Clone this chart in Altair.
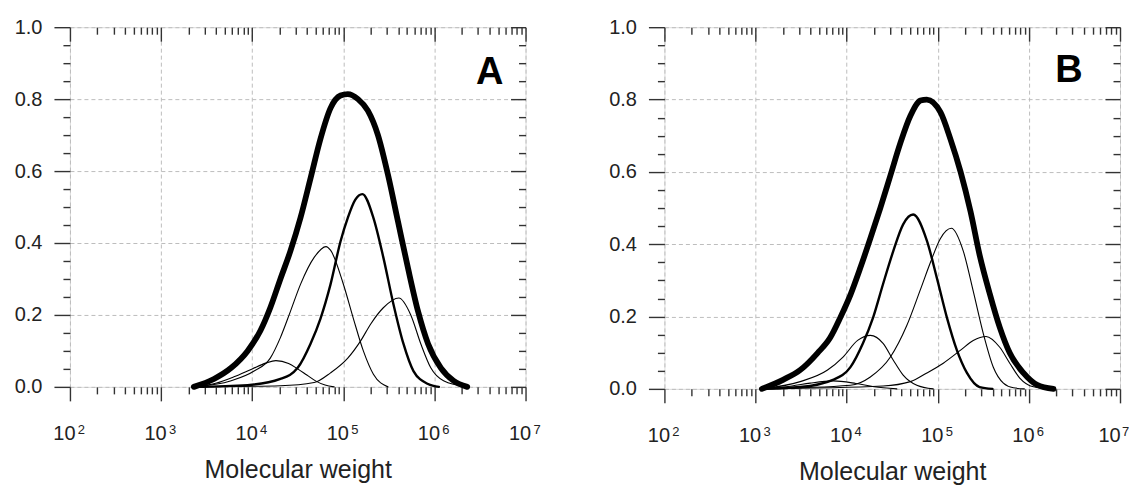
import altair as alt
import pandas as pd

FONT = "Liberation Sans"

# ---------------- axis ticks / labels ----------------
X_MAJOR = [1e2, 1e3, 1e4, 1e5, 1e6, 1e7]
X_BASE = "10"
X_EXP = ["2", "3", "4", "5", "6", "7"]
X_MINOR = [200, 300, 400, 500, 600, 700, 800, 900,
           2e3, 3e3, 4e3, 5e3, 6e3, 7e3, 8e3, 9e3,
           2e4, 3e4, 4e4, 5e4, 6e4, 7e4, 8e4, 9e4,
           2e5, 3e5, 4e5, 5e5, 6e5, 7e5, 8e5, 9e5,
           2e6, 3e6, 4e6, 5e6, 6e6, 7e6, 8e6, 9e6]
Y_MAJOR = [0.0, 0.2, 0.4, 0.6, 0.8, 1.0]
Y_MINOR = [0.05, 0.10, 0.15, 0.25, 0.30, 0.35, 0.45, 0.50, 0.55,
           0.65, 0.70, 0.75, 0.85, 0.90, 0.95]
X_TITLE = "Molecular weight"

# ---------------- panel A ----------------
A_sum_x = [2290, 3800, 5890, 8910, 12300, 15800, 20400, 26300, 33900, 43700, 56200,
           72400, 93300, 112000, 145000, 186000, 240000, 309000, 398000, 513000,
           661000, 851000, 1175000, 1622000, 2290000]
A_sum_y = [0.0, 0.022, 0.053, 0.10, 0.156, 0.22, 0.30, 0.378, 0.47, 0.58, 0.69,
           0.775, 0.81, 0.814, 0.80, 0.768, 0.70, 0.59, 0.46, 0.33,
           0.21, 0.12, 0.053, 0.017, 0.0]

A_c1_x = [2290, 3980, 6310, 10000, 14100, 18200, 25100, 31600, 39800, 50100, 63100, 79400]
A_c1_y = [0.0, 0.010, 0.028, 0.050, 0.066, 0.073, 0.065, 0.050, 0.033, 0.016, 0.005, 0.0]

A_c2_x = [2290, 5890, 10500, 15800, 20400, 26300, 33900, 47900, 64600, 72400,
          100000, 129000, 166000, 214000, 309000]
A_c2_y = [0.0, 0.017, 0.044, 0.08, 0.137, 0.21, 0.285, 0.36, 0.39, 0.38,
          0.286, 0.19, 0.10, 0.035, 0.0]

A_c3_x = [2290, 8910, 20400, 31600, 43700, 56200, 72400, 93300, 112000, 135000,
          162000, 214000, 275000, 355000, 457000, 589000, 851000, 1120000]
A_c3_y = [0.0, 0.005, 0.022, 0.053, 0.12, 0.19, 0.285, 0.405, 0.47, 0.52,
          0.536, 0.47, 0.36, 0.23, 0.12, 0.044, 0.008, 0.0]

A_c4_x = [2290, 20400, 47900, 72400, 112000, 155000, 200000, 275000, 407000,
          550000, 708000, 912000, 1259000, 2290000]
A_c4_y = [0.0, 0.003, 0.012, 0.039, 0.08, 0.128, 0.175, 0.22, 0.247,
          0.20, 0.12, 0.053, 0.017, 0.0]

# ---------------- panel B ----------------
B_sum_x = [1175, 2000, 3090, 4790, 6610, 8510, 11000, 14100, 18200, 23400, 30200,
           38900, 50100, 64600, 75900, 107000, 138000, 178000, 229000, 288000,
           372000, 479000, 617000, 871000, 1230000, 1862000]
B_sum_y = [0.0, 0.025, 0.052, 0.099, 0.142, 0.197, 0.26, 0.334, 0.416, 0.50, 0.59,
           0.68, 0.755, 0.797, 0.80, 0.765, 0.69, 0.60, 0.49, 0.37,
           0.263, 0.17, 0.099, 0.044, 0.011, 0.0]

B_c1_x = [1175, 2510, 3980, 7080, 12600, 20000, 35500]
B_c1_y = [0.0, 0.008, 0.016, 0.022, 0.015, 0.006, 0.0]

B_c2_x = [1175, 3090, 6170, 9120, 13200, 18200, 25100, 32400, 41700, 58900, 89100]
B_c2_y = [0.0, 0.02, 0.052, 0.088, 0.134, 0.148, 0.126, 0.08, 0.038, 0.01, 0.0]

B_c3_x = [1175, 3090, 7080, 11000, 15100, 19500, 25100, 32400, 41700, 53700,
          75900, 97700, 126000, 162000, 209000, 288000, 398000]
B_c3_y = [0.0, 0.005, 0.025, 0.06, 0.126, 0.197, 0.29, 0.38, 0.455, 0.482,
          0.41, 0.307, 0.197, 0.107, 0.044, 0.005, 0.0]

B_c4_x = [1175, 11000, 18200, 30200, 45700, 64600, 83200, 107000, 141000,
          191000, 245000, 316000, 407000, 525000, 676000, 891000]
B_c4_y = [0.0, 0.01, 0.033, 0.088, 0.175, 0.275, 0.35, 0.416, 0.444,
          0.38, 0.27, 0.153, 0.06, 0.016, 0.003, 0.0]

B_c5_x = [1175, 25100, 50100, 75900, 115000, 178000, 245000, 339000, 479000,
          617000, 794000, 1122000, 1862000]
B_c5_y = [0.0, 0.008, 0.02, 0.044, 0.071, 0.107, 0.134, 0.145, 0.115,
          0.071, 0.03, 0.006, 0.0]

# panel letters (position in data units)
A_letter = {"text": "A", "mw": 4.05e6, "val": 0.873}
B_letter = {"text": "B", "mw": 2.75e6, "val": 0.880}

EXP_EXPR = "[" + ",".join("'%s'" % s for s in X_EXP) + "][round(log(datum.value)/LN10) - 2]"


def build_df(curves):
    rows = []
    for name, kind, xs, ys in curves:
        for x, y in zip(xs, ys):
            rows.append({"mw": x, "val": y, "curve": name, "kind": kind})
    return pd.DataFrame(rows)


def panel(curves, letter, h, squeeze_last):
    df = build_df(curves)
    xsc = alt.Scale(type="log", domain=[100, 1e7], nice=False)
    ysc = alt.Scale(domain=[0, 1], nice=False)
    tick = dict(domain=False, tickColor="#333", tickWidth=1.4, title=None)

    if squeeze_last:
        base_off = {"condition": {"test": "datum.value > 5000000", "value": -11}, "value": -6}
        exp_off = {"condition": {"test": "datum.value > 5000000", "value": 5}, "value": 11}
    else:
        base_off = -6
        exp_off = 11

    ax_bottom = alt.Axis(orient="bottom", values=X_MAJOR, tickSize=14,
                         labelExpr="'%s'" % X_BASE, labelFont=FONT, labelFontSize=20,
                         labelColor="#222", labelPadding=23, labelOffset=base_off,
                         labelFlush=False, labelOverlap=False,
                         grid=True, gridDash=[4, 3], gridColor="#bdbdbd", gridWidth=1,
                         domain=False, tickColor="#333", tickWidth=1.4,
                         title=X_TITLE, titleFont=FONT, titleFontSize=25,
                         titleFontWeight="normal", titleColor="#222", titlePadding=14)
    ax_exp = alt.Axis(orient="bottom", values=X_MAJOR, ticks=False, tickSize=0,
                      labelExpr=EXP_EXPR, labelFont=FONT, labelFontSize=13,
                      labelColor="#222", labelPadding=37, labelOffset=exp_off,
                      labelFlush=False, labelOverlap=False, grid=False,
                      domain=False, title=None)
    ax_left = alt.Axis(orient="left", values=Y_MAJOR, tickSize=16, format=".1f",
                       labelFont=FONT, labelFontSize=20, labelColor="#222",
                       labelPadding=12, grid=True, gridDash=[4, 3],
                       gridColor="#bdbdbd", gridWidth=1, **tick)
    ax_bottom_min = alt.Axis(orient="bottom", values=X_MINOR, tickSize=7,
                             labels=False, grid=False, **tick)
    ax_left_min = alt.Axis(orient="left", values=Y_MINOR, tickSize=7,
                           labels=False, grid=False, **tick)
    ax_top = alt.Axis(orient="top", values=X_MAJOR, tickSize=14, offset=-14,
                      labels=False, grid=False, minExtent=0, maxExtent=0, **tick)
    ax_top_min = alt.Axis(orient="top", values=X_MINOR, tickSize=7, offset=-7,
                          labels=False, grid=False, minExtent=0, maxExtent=0, **tick)
    ax_right = alt.Axis(orient="right", values=Y_MAJOR, tickSize=15, offset=-15,
                        labels=False, grid=False, minExtent=0, maxExtent=0, **tick)
    ax_right_min = alt.Axis(orient="right", values=Y_MINOR, tickSize=7, offset=-7,
                            labels=False, grid=False, minExtent=0, maxExtent=0, **tick)

    base = alt.Chart(df)

    def lines(kind, width, xa=None, ya=None):
        return base.transform_filter(alt.datum.kind == kind).mark_line(
            color="black", strokeWidth=width, interpolate="monotone",
            strokeCap="round", strokeJoin="round"
        ).encode(
            x=alt.X("mw:Q", scale=xsc, axis=xa),
            y=alt.Y("val:Q", scale=ysc, axis=ya),
            detail="curve:N",
        )

    l_thin = lines("thin", 1.1, ax_bottom, ax_left)
    l_thick = lines("thick", 2.4)
    l_sum = lines("sum", 5.8)

    def ghost(xa, ya):
        return base.mark_point(opacity=0).encode(
            x=alt.X("mw:Q", scale=xsc, axis=xa),
            y=alt.Y("val:Q", scale=ysc, axis=ya),
        )

    g1 = ghost(ax_bottom_min, ax_left_min)
    g2 = ghost(ax_top, ax_right)
    g3 = ghost(ax_top_min, ax_right_min)
    g4 = ghost(ax_exp, None)

    txt = alt.Chart(pd.DataFrame([letter])).mark_text(
        font=FONT, fontSize=38, fontWeight="bold", color="black",
        align="center", baseline="middle"
    ).encode(
        x=alt.X("mw:Q", scale=xsc, axis=None),
        y=alt.Y("val:Q", scale=ysc, axis=None),
        text="text:N",
    )

    return alt.layer(l_thin, l_thick, l_sum, g1, g2, g3, g4, txt).resolve_axis(
        x="independent", y="independent"
    ).properties(width=456, height=h)


pA = panel([
    ("sum", "sum", A_sum_x, A_sum_y),
    ("c1", "thin", A_c1_x, A_c1_y),
    ("c2", "thin", A_c2_x, A_c2_y),
    ("c3", "thick", A_c3_x, A_c3_y),
    ("c4", "thin", A_c4_x, A_c4_y),
], A_letter, 360, False)

pB = panel([
    ("sum", "sum", B_sum_x, B_sum_y),
    ("c1", "thin", B_c1_x, B_c1_y),
    ("c2", "thin", B_c2_x, B_c2_y),
    ("c3", "thick", B_c3_x, B_c3_y),
    ("c4", "thin", B_c4_x, B_c4_y),
    ("c5", "thin", B_c5_x, B_c5_y),
], B_letter, 362, True)

chart = alt.hconcat(pA, pB, spacing=139, bounds="flush").properties(
    padding={"left": 5, "top": 8, "right": -1, "bottom": 0}
).configure_view(stroke="#333", strokeWidth=1.5).configure(background="white")

chart.save("out.html", embed_options={"renderer": "svg", "actions": False})
